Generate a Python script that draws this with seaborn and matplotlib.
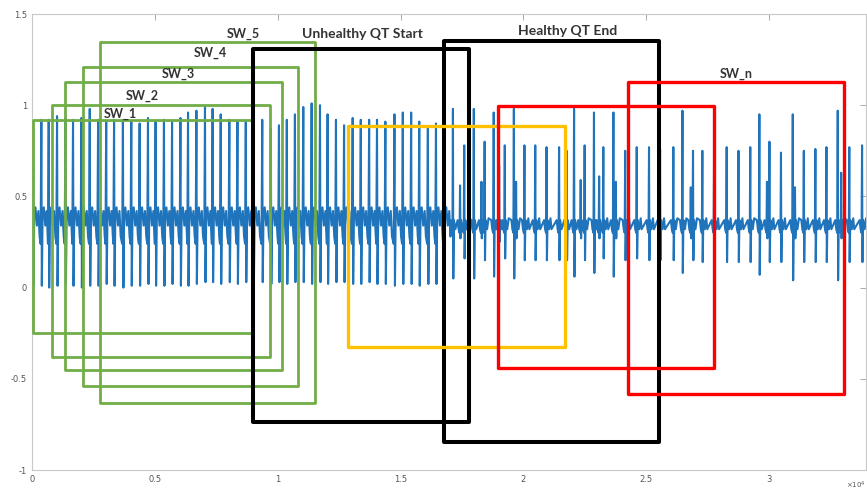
import numpy as np
import matplotlib
matplotlib.use("Agg")
import matplotlib.pyplot as plt
import seaborn as sns
from matplotlib.patches import Rectangle

# %% Data (x in units of 1e4 samples)
# regular beats, first part of the record
left_beats = [0.004, 0.038, 0.068, 0.102, 0.136, 0.167, 0.201, 0.235, 0.269, 0.302,
              0.334, 0.370, 0.404, 0.438, 0.472, 0.503, 0.537, 0.570, 0.604, 0.635,
              0.669, 0.704, 0.735, 0.768, 0.803, 0.836, 0.870, 0.901, 0.937, 0.972,
              1.005, 1.037, 1.070, 1.104, 1.138, 1.172, 1.203, 1.237, 1.270, 1.305,
              1.338, 1.372, 1.404, 1.438, 1.475, 1.509, 1.543, 1.576, 1.611, 1.644,
              1.676]
left_peaks = [0.91, 0.92, 0.92, 0.94, 0.93, 0.92, 0.93, 0.98, 0.92, 0.91,
              0.92, 0.92, 0.91, 0.90, 0.93, 0.91, 0.92, 0.91, 0.93, 0.96,
              0.97, 0.99, 0.98, 0.95, 0.92, 0.91, 0.91, 0.90, 0.92, 0.87,
              0.89, 0.92, 0.95, 0.99, 1.01, 1.00, 0.95, 0.92, 0.89, 0.93,
              0.92, 0.92, 0.92, 0.91, 0.95, 0.96, 0.96, 0.91, 0.88, 0.90,
              0.85]
left_troughs = [0.01, 0.01, 0.00, 0.01, 0.02, 0.01, 0.00, 0.01, 0.01, 0.02,
                0.01, 0.00, 0.01, 0.01, 0.02, 0.01, 0.01, 0.02, 0.01, 0.01,
                0.02, 0.03, 0.03, 0.02, 0.03, 0.02, 0.03, 0.03, 0.03, 0.02,
                0.03, 0.02, 0.03, 0.03, 0.02, 0.03, 0.02, 0.03, 0.03, 0.02,
                0.02, 0.03, 0.02, 0.02, 0.01, 0.02, 0.02, 0.01, 0.02, 0.02,
                0.03]

# irregular beats, second part of the record
right_beats = [1.713, 1.742, 1.759, 1.798, 1.829, 1.842, 1.879, 1.901, 1.924, 1.961,
               1.970, 2.004, 2.048, 2.094, 2.145, 2.176, 2.206, 2.233, 2.249, 2.287,
               2.308, 2.325, 2.366, 2.376, 2.414, 2.461, 2.511, 2.556, 2.610, 2.647,
               2.681, 2.690, 2.728, 2.776, 2.827, 2.875, 2.923, 2.960, 2.991, 3.001,
               3.048, 3.096, 3.105, 3.141, 3.188, 3.233, 3.279, 3.293, 3.326, 3.378]
right_peaks = [0.98, 0.56, 0.78, 0.98, 0.58, 0.80, 0.96, 0.67, 0.78, 0.98,
               0.58, 0.78, 0.78, 0.77, 0.77, 0.75, 0.98, 0.59, 0.78, 0.96,
               0.61, 0.77, 0.96, 0.58, 0.75, 0.77, 0.77, 0.76, 0.77, 0.97,
               0.55, 0.75, 0.75, 0.76, 0.77, 0.75, 0.77, 0.95, 0.58, 0.80,
               0.74, 0.95, 0.55, 0.75, 0.76, 0.77, 0.97, 0.63, 0.77, 0.78]
right_troughs = [0.05, 0.27, 0.16, 0.05, 0.27, 0.15, 0.06, 0.25, 0.16, 0.05,
                 0.27, 0.15, 0.15, 0.15, 0.15, 0.15, 0.06, 0.27, 0.15, 0.08,
                 0.27, 0.16, 0.06, 0.27, 0.15, 0.16, 0.15, 0.15, 0.15, 0.08,
                 0.27, 0.15, 0.14, 0.15, 0.14, 0.14, 0.14, 0.07, 0.27, 0.14,
                 0.14, 0.04, 0.27, 0.14, 0.14, 0.14, 0.04, 0.27, 0.14, 0.14]

# beat shapes around each R peak ("R" = peak value, "S" = trough value)
left_shape_dt = [-0.003, 0.0, 0.002, 0.005, 0.010, 0.016, 0.022, 0.027]
left_shape_y = [0.24, "R", "S", 0.38, 0.44, 0.34, 0.42, 0.28]
right_shape_dt = [-0.010, -0.006, -0.002, 0.0, 0.0015, 0.004, 0.010, 0.016, 0.020]
right_shape_y = [0.37, 0.32, 0.30, "R", "S", 0.37, 0.32, 0.38, 0.32]

# sliding windows drawn over the signal
box_left = [0.005, 0.083, 0.135, 0.208, 0.277, 0.899, 1.677, 1.286, 1.897, 2.426]
box_right = [0.899, 0.969, 1.017, 1.083, 1.152, 1.778, 2.552, 2.169, 2.776, 3.305]
box_bottom = [-0.247, -0.379, -0.450, -0.538, -0.632, -0.736, -0.846, -0.324, -0.440, -0.582]
box_top = [0.918, 1.000, 1.126, 1.209, 1.346, 1.308, 1.352, 0.885, 0.995, 1.126]
box_color = ["#70AD47"] * 5 + ["#000000", "#000000", "#FFC000", "#FF0000", "#FF0000"]
box_lw = [2.0] * 5 + [2.9, 2.9, 2.4, 2.4, 2.4]

label_text = ["SW_1", "SW_2", "SW_3", "SW_4", "SW_5",
              "Unhealthy QT Start", "Healthy QT End", "SW_n"]
label_x = [0.36, 0.447, 0.595, 0.724, 0.86, 1.343, 2.178, 2.865]
label_y = [0.95, 1.05, 1.17, 1.286, 1.39, 1.39, 1.407, 1.17]
label_size = [9, 9, 9, 9, 9, 10, 10, 9]

x_ticks = [0, 0.5, 1, 1.5, 2, 2.5, 3]
y_ticks = [-1, -0.5, 0, 0.5, 1, 1.5]


def build_signal(beats, peaks, troughs, shape_dt, shape_y, frac):
    xs, ys = [], []
    n = len(beats)
    for i, t in enumerate(beats):
        gap_next = beats[i + 1] - t if i + 1 < n else 1.0
        gap_prev = t - beats[i - 1] if i > 0 else 1.0
        for dt, yv in zip(shape_dt, shape_y):
            core = -0.0025 <= dt <= 0.0025
            if not core:
                if dt > 0 and dt >= gap_next * frac:
                    continue
                if dt < 0 and -dt >= gap_prev * (1 - frac):
                    continue
            xs.append(t + dt)
            ys.append(peaks[i] if yv == "R" else troughs[i] if yv == "S" else yv)
    return xs, ys


lx, ly = build_signal(left_beats, left_peaks, left_troughs, left_shape_dt, left_shape_y, 0.85)
rx, ry = build_signal(right_beats, right_peaks, right_troughs, right_shape_dt, right_shape_y, 0.5)
sig_x = np.array(lx + rx)
sig_y = np.array(ly + ry)

# %% Plot
sns.set_style("white")
fig = plt.figure(figsize=(8.67, 4.96), dpi=100)
ax = fig.add_axes([32 / 867, 26 / 496, 834 / 867, 456 / 496])

sns.lineplot(x=sig_x, y=sig_y, sort=False, estimator=None, ax=ax,
             color="#1f74bb", linewidth=1.5)

for l, r, b, t, c, w in zip(box_left, box_right, box_bottom, box_top, box_color, box_lw):
    ax.add_patch(Rectangle((l, b), r - l, t - b, fill=False, edgecolor=c,
                           linewidth=w, joinstyle="round", zorder=3))

for s, x, y, fs in zip(label_text, label_x, label_y, label_size):
    ax.text(x, y, s, ha="center", va="center", fontsize=fs, fontweight="bold",
            family=["Lato", "DejaVu Sans"], color="#333333", zorder=4)

ax.set_xlim(0, 3.394)
ax.set_ylim(-1, 1.5)
ax.set_xticks(x_ticks)
ax.set_yticks(y_ticks)
ax.set_xticklabels([f"{v:g}" for v in x_ticks])
ax.set_yticklabels([f"{v:g}" for v in y_ticks])
ax.tick_params(direction="in", length=4, width=0.7, colors="#aaaaaa",
               labelcolor="#555555", labelsize=6, top=True, right=True)
for sp in ax.spines.values():
    sp.set_color("#c8c8c8")
    sp.set_linewidth(0.8)
ax.set_xlabel("")
ax.set_ylabel("")

fig.text(0.998, 0.016, "×10$^4$", fontsize=5, color="#555555", ha="right")

fig.savefig("out.png", dpi=100)
